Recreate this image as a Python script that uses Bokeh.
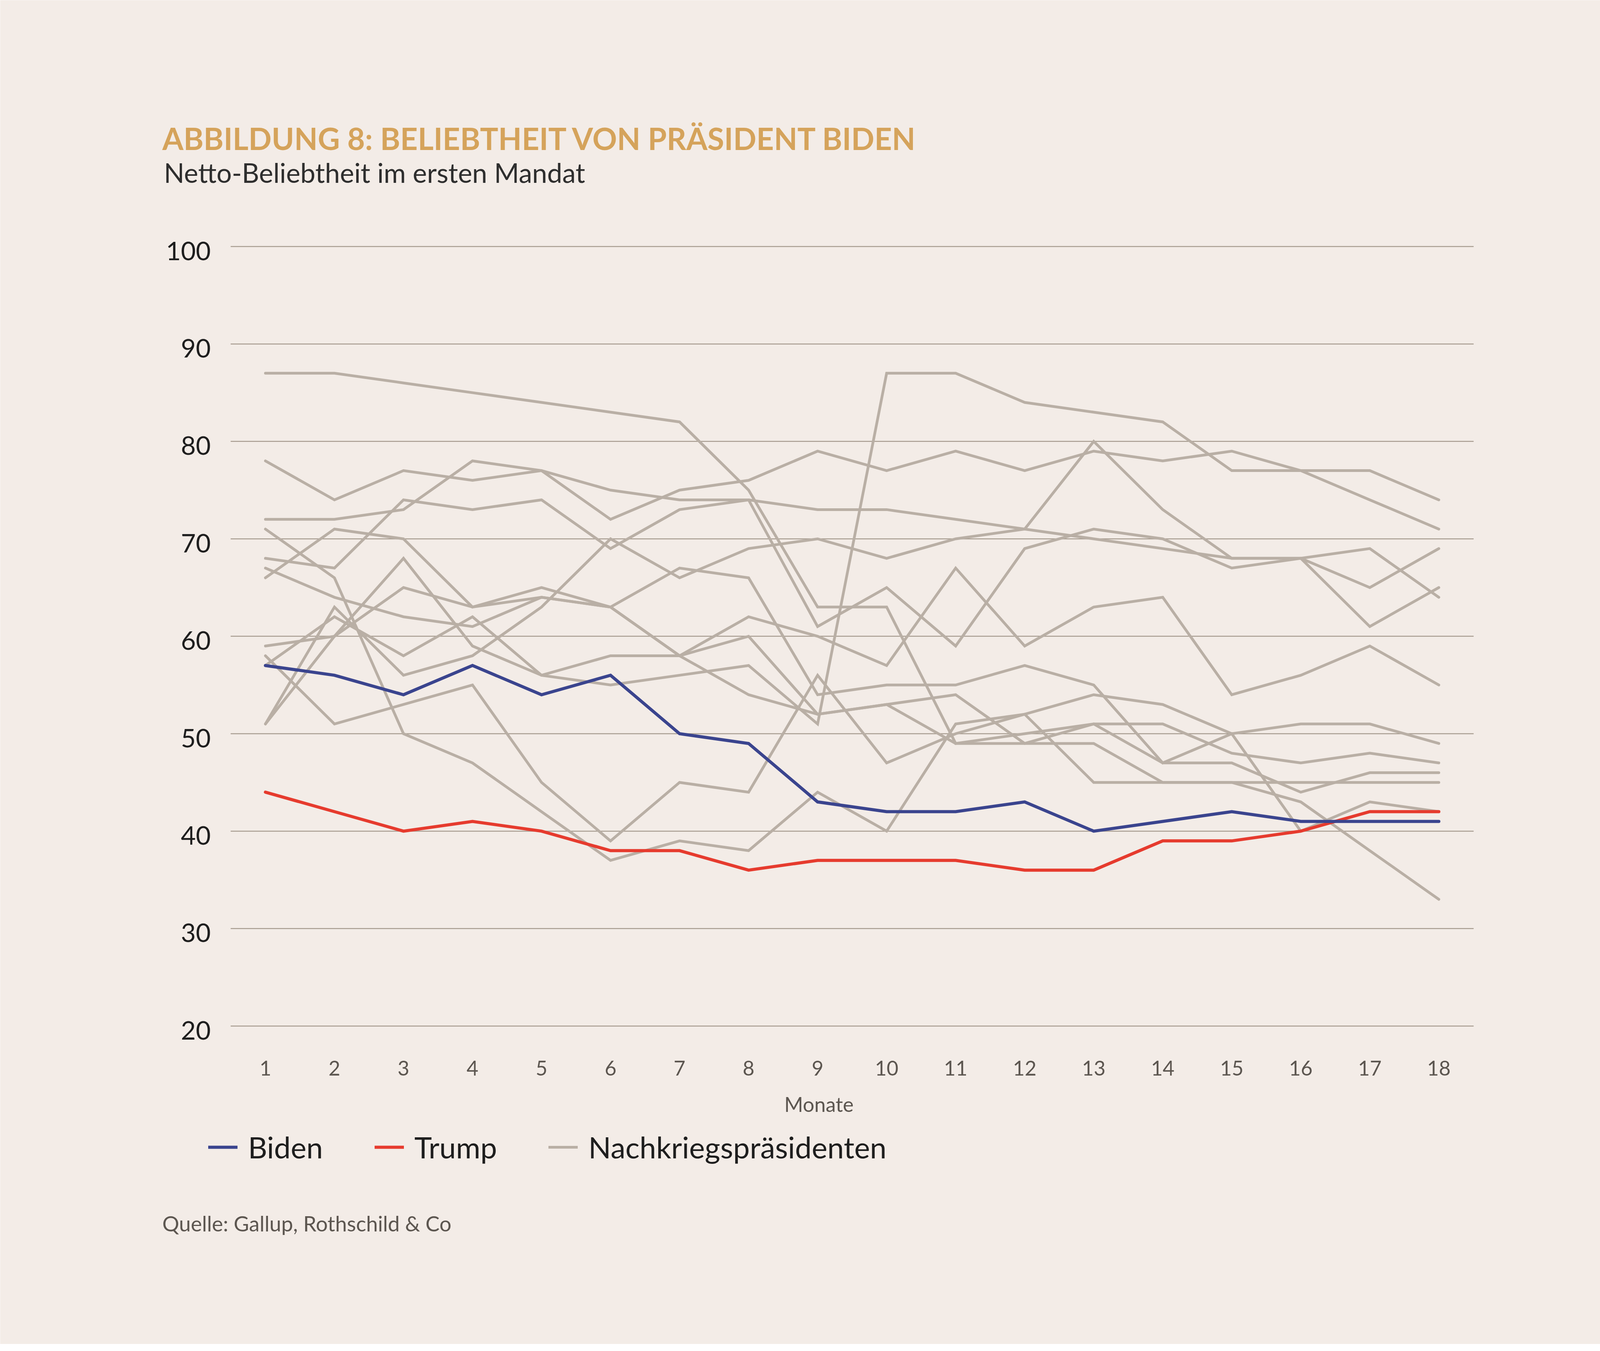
from bokeh.plotting import figure
from bokeh.models import Legend, LegendItem, Range1d, Label
from bokeh.core.properties import value
from bokeh.embed import file_html
from bokeh.resources import INLINE

# ---------------- data ----------------
months = list(range(1, 19))
month_ticks = list(range(1, 19))
y_ticks = [20, 30, 40, 50, 60, 70, 80, 90, 100]

biden = [57, 56, 54, 57, 54, 56, 50, 49, 43, 42, 42, 43, 40, 41, 42, 41, 41, 41]
trump = [44, 42, 40, 41, 40, 38, 38, 36, 37, 37, 37, 36, 36, 39, 39, 40, 42, 42]

truman     = [87, 87, 86, 85, 84, 83, 82, 75, 63, 63, 49, 50, 51, 51, 48, 47, 48, 47]
eisenhower = [68, 67, 74, 73, 74, 69, 73, 74, 61, 65, 59, 69, 71, 70, 67, 68, 61, 65]
kennedy    = [72, 72, 73, 78, 77, 72, 75, 76, 79, 77, 79, 77, 79, 78, 79, 77, 74, 71]
johnson    = [78, 74, 77, 76, 77, 75, 74, 74, 73, 73, 72, 71, 70, 69, 68, 68, 65, 69]
nixon      = [59, 60, 65, 63, 64, 63, 58, 62, 60, 57, 67, 59, 63, 64, 54, 56, 59, 55]
ford       = [71, 66, 50, 47, 42, 37, 39, 38, 44, 40, 51, 52, 45, 45, 45, 45, 45, 45]
carter     = [66, 71, 70, 63, 65, 63, 67, 66, 54, 55, 55, 57, 55, 47, 50, 40, 43, 42]
reagan     = [51, 60, 68, 59, 56, 58, 58, 60, 52, 53, 49, 49, 51, 47, 47, 44, 46, 46]
bush_sr    = [51, 63, 56, 58, 63, 70, 66, 69, 70, 68, 70, 71, 80, 73, 68, 68, 69, 64]
clinton    = [58, 51, 53, 55, 45, 39, 45, 44, 56, 47, 50, 52, 54, 53, 50, 51, 51, 49]
bush_jr    = [57, 62, 58, 62, 56, 55, 56, 57, 51, 87, 87, 84, 83, 82, 77, 77, 77, 74]
obama      = [67, 64, 62, 61, 64, 63, 58, 54, 52, 53, 54, 49, 49, 45, 45, 43, 38, 33]

postwar = [truman, eisenhower, kennedy, johnson, nixon, ford, carter,
           reagan, bush_sr, clinton, bush_jr, obama]

title_text = "ABBILDUNG 8: BELIEBTHEIT VON PRÄSIDENT BIDEN"
subtitle_text = "Netto-Beliebtheit im ersten Mandat"
source_text = "Quelle: Gallup, Rothschild & Co"
x_label = "Monate"
legend_labels = ["Biden", "Trump", "Nachkriegspräsidenten"]

# ---------------- styling / layout constants ----------------
FONT = "Lato"
BG = "#F3ECE7"
GREY = "#B9AFA5"
BLUE = "#3A448E"
RED = "#E63B2E"
GOLD = "#D5A35B"
GRID = "#A79C90"
DARK = "#1E1E1E"
MID = "#5C5650"

W, H = 4200, 3440          # canvas size
X1, PXM = 679.0, 176.7     # canvas x of month 1, pixels per month
Y100, PXU = 630.5, 24.94   # canvas y of value 100, pixels per unit


def dx(cx):
    """canvas pixel x -> data x"""
    return 1 + (cx - X1) / PXM


def dy(cy):
    """canvas pixel y (from top) -> data y"""
    return 100 - (cy - Y100) / PXU


p = figure(width=W, height=H,
           x_range=Range1d(dx(0), dx(W)), y_range=Range1d(dy(H), dy(0)),
           output_backend="svg", toolbar_location=None, title=None,
           x_axis_location=None, y_axis_location=None, min_border=0)
p.background_fill_color = BG
p.border_fill_color = BG
p.outline_line_color = None
p.grid.visible = False

n = len(y_ticks)
# horizontal grid lines at the y ticks
p.segment(x0=[dx(590)] * n, x1=[dx(3772)] * n, y0=y_ticks, y1=y_ticks,
          line_color=GRID, line_width=2.5)

# y tick labels
p.text(x=[dx(539)] * n, y=[t - 11 / PXU for t in y_ticks],
       text=[str(t) for t in y_ticks], text_align="right",
       text_baseline="middle", text_font=value(FONT),
       text_font_size="66px", text_color=DARK)

# x tick labels + axis title
p.text(x=month_ticks, y=[dy(2733)] * len(month_ticks),
       text=[str(m) for m in month_ticks], text_align="center",
       text_baseline="middle", text_font=value(FONT),
       text_font_size="52px", text_color=MID)
p.add_layout(Label(x=dx(2096), y=dy(2825), text=x_label, text_font=FONT,
                   text_font_size="52px", text_color=MID,
                   text_align="center", text_baseline="middle"))

# data lines
grey_renderers = []
for series in postwar:
    grey_renderers.append(p.line(months, series, line_color=GREY, line_width=7,
                                 line_join="miter", line_cap="round"))
r_trump = p.line(months, trump, line_color=RED, line_width=8,
                 line_join="miter", line_cap="round")
r_biden = p.line(months, biden, line_color=BLUE, line_width=8,
                 line_join="miter", line_cap="round")

# title, subtitle, source
p.add_layout(Label(x=dx(415), y=dy(353), text=title_text, text_font=FONT,
                   text_font_size="78px", text_font_style="bold",
                   text_color=GOLD, text_baseline="middle",
                   text_align="left"))
p.add_layout(Label(x=dx(419), y=dy(441), text=subtitle_text, text_font=FONT,
                   text_font_size="69px", text_color="#2E2E2E",
                   text_baseline="middle", text_align="left"))
p.add_layout(Label(x=dx(415), y=dy(3131), text=source_text, text_font=FONT,
                   text_font_size="54px", text_color=MID,
                   text_baseline="middle", text_align="left"))

# legend
LEG_H = 84
legend = Legend(items=[LegendItem(label=legend_labels[0], renderers=[r_biden]),
                       LegendItem(label=legend_labels[1], renderers=[r_trump]),
                       LegendItem(label=legend_labels[2], renderers=[grey_renderers[0]])],
                orientation="horizontal", location=(533, H - 2897 - LEG_H),
                glyph_width=75, glyph_height=LEG_H, label_height=LEG_H,
                label_standoff=27, spacing=132,
                padding=0, margin=0, border_line_color=None,
                background_fill_alpha=0,
                label_text_font=FONT, label_text_font_size="76px",
                label_text_color=DARK, label_text_baseline="middle")
p.add_layout(legend)

open("out.html", "w").write(file_html(p, INLINE))
